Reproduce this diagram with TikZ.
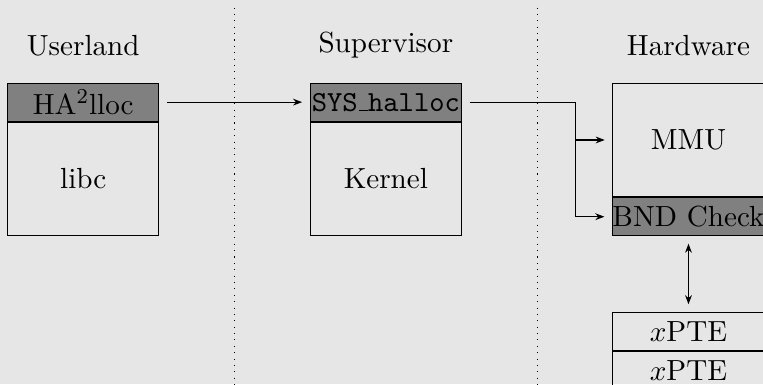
\documentclass[tikz,border=0pt,11pt]{standalone}
\usepackage{amsmath}
\usepackage{tikz}
\usetikzlibrary{arrows.meta,positioning,calc}
\definecolor{bg}{HTML}{E6E6E6}
\definecolor{hdr}{HTML}{808080}
\newcommand\ulbar{\leavevmode\kern.06em\vbox{\hrule width.3em}}
\tikzset{
  >={Stealth[length=1.2mm,width=0.9mm]},
  box/.style={draw=black,rectangle,minimum width=2cm,inner sep=0pt,align=center},
  hbox/.style={box,fill=hdr,minimum height=0.5cm},
  bbox/.style={box,minimum height=1.5cm},
  pbox/.style={box,minimum height=0.5cm},
  ttl/.style={inner sep=2pt},
  arr/.style={->,draw=black,line width=0.4pt,shorten >=1mm},
  sep/.style={dotted,line width=0.4pt},
}

\begin{document}
\begin{tikzpicture}
% background and frame
\fill[bg] (-1.1,1.1) rectangle (8.985,-3.976);
\useasboundingbox (-1.1,1.1) rectangle (8.985,-3.976);

% column titles
\node[ttl] (tuser) at (0,0.5) {Userland};
\node[ttl] (tsup) at (4,0.5) {Supervisor};
\node[ttl] (thw) at (8,0.5) {Hardware};

% separators
\draw[sep] (2,1) -- (2,-4);
\draw[sep] (6,1) -- (6,-4);

% userland
\node[hbox] (ualloc) at (0,-0.25) {HA$^2$lloc};
\node[bbox,below=0pt of ualloc] (libc) {libc};

% supervisor
\node[hbox] (shalloc) at (4,-0.25) {\texttt{SYS\ulbar halloc}};
\node[bbox,below=0pt of shalloc] (kernel) {Kernel};

% hardware
\node[bbox] (mmu) at (8,-0.75) {MMU};
\node[hbox,below=0pt of mmu] (bnd) {BND Check};
\node[pbox,below=1cm of bnd] (pte1) {$x$PTE};
\node[pbox,below=0pt of pte1] (pte2) {$x$PTE};

% calls
\draw[arr,shorten <=1mm] (ualloc) -- (shalloc);
\path (shalloc.east) ++(1.5,0) coordinate (split);
\draw[arr,shorten <=1mm] (shalloc.east) -- (split) |- (bnd.west);
\draw[arr] (split) |- (mmu.west);
\draw[arr,<->,shorten <=1mm] (bnd) -- (pte1);
\end{tikzpicture}
\end{document}
